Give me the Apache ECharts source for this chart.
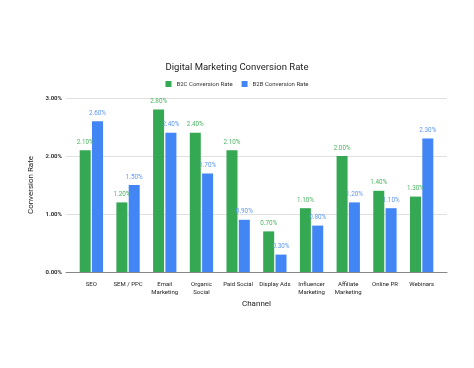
<!DOCTYPE html>
<html><head><meta charset="utf-8">
<script src="https://cdn.jsdelivr.net/npm/echarts@6/dist/echarts.min.js"></script>
<style>html,body{margin:0;padding:0;background:#fff}#c{width:474px;height:368px}</style>
</head><body><div id="c"></div>
<script>
const categories = ['SEO','SEM / PPC','Email\nMarketing','Organic\nSocial','Paid Social','Display Ads','Influencer\nMarketing','Affiliate\nMarketing','Online PR','Webinars'];
const b2c = [2.10,1.20,2.80,2.40,2.10,0.70,1.10,2.00,1.40,1.30];
const b2b = [2.60,1.50,2.40,1.70,0.90,0.30,0.80,1.20,1.10,2.30];
const yTicks = [0,1,2,3];
const GREEN = '#34a853', BLUE = '#4285f4';
const font = 'Roboto, Arial, sans-serif';
const chart = echarts.init(document.getElementById('c'));
const pct = v => v.toFixed(2) + '%';
chart.setOption({
  animation:false,
  title:{text:'Digital Marketing Conversion Rate', left:'center', top:58,
    textStyle:{fontFamily:font, fontSize:9.5, fontWeight:'normal', color:'#222'}},
  legend:{top:76, left:'center', itemWidth:6, itemHeight:6, itemGap:9, icon:'rect',
    textStyle:{fontFamily:font, fontSize:6, color:'#333'}},
  grid:[
    {left:73, right:34, top:98, bottom:96},
    {left:66, right:27, top:98, bottom:96}
  ],
  xAxis:[
    {type:'category', gridIndex:0, data:categories,
      axisLine:{show:false}, axisTick:{show:false},
      axisLabel:{fontFamily:font, fontSize:6, color:'#222', margin:8, lineHeight:8, interval:0},
      name:'Channel', nameLocation:'middle', nameGap:28,
      nameTextStyle:{fontFamily:font, fontSize:8, color:'#222'}},
    {type:'value', gridIndex:1, min:0, max:1, show:true,
      axisLine:{show:true, lineStyle:{color:'#888', width:1}}, axisTick:{show:false},
      axisLabel:{show:false}, splitLine:{show:false}}
  ],
  yAxis:[
    {type:'value', gridIndex:0, min:yTicks[0], max:yTicks[yTicks.length-1], interval:1,
      axisLabel:{show:false}, splitLine:{show:false}, axisLine:{show:false}, axisTick:{show:false}},
    {type:'value', gridIndex:1, min:yTicks[0], max:yTicks[yTicks.length-1], interval:1,
      axisLine:{show:false}, axisTick:{show:false},
      axisLabel:{fontFamily:font, fontSize:6, fontWeight:'bold', color:'#333', margin:4, formatter:v=>pct(v)},
      splitLine:{lineStyle:{color:'#e0e0e0'}},
      name:'Conversion Rate', nameLocation:'middle', nameGap:29,
      nameTextStyle:{fontFamily:font, fontSize:8, color:'#222'}}
  ],
  series:[
    {name:'B2C Conversion Rate', type:'bar', xAxisIndex:0, yAxisIndex:0, data:b2c,
      barWidth:11, barGap:'12%', itemStyle:{color:GREEN},
      label:{show:true, position:'top', distance:5, fontFamily:font, fontSize:6.3, color:'#4cb462',
        formatter:p=>pct(p.value)}},
    {name:'B2B Conversion Rate', type:'bar', xAxisIndex:0, yAxisIndex:0, data:b2b,
      barWidth:11, barGap:'12%', itemStyle:{color:BLUE},
      label:{show:true, position:'top', distance:5, fontFamily:font, fontSize:6.3, color:'#5c97f5',
        formatter:p=>pct(p.value)}}
  ]
});
</script></body></html>
